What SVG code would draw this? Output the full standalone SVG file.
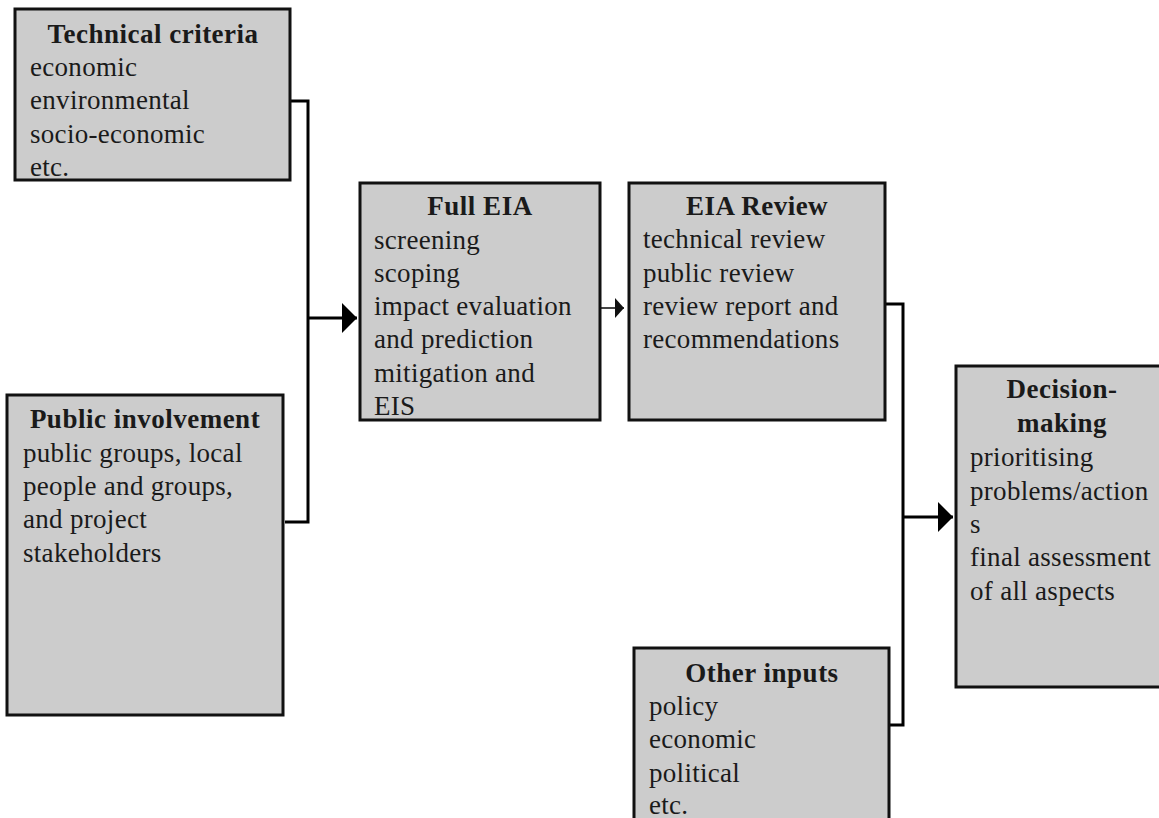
<svg xmlns="http://www.w3.org/2000/svg" width="1159" height="818" viewBox="0 0 1159 818">
  <style>
    .box { fill: #cccccc; stroke: #111111; stroke-width: 3; }
    .title { font-family: "Liberation Serif", "Times New Roman", serif; font-size: 27px; font-weight: bold; fill: #1a1a1a; text-anchor: middle; letter-spacing: 0.5px; }
    .item { font-family: "Liberation Serif", "Times New Roman", serif; font-size: 27px; fill: #1a1a1a; letter-spacing: 0.3px; }
    .link { fill: none; stroke: #000000; stroke-width: 3; }
    .thin { fill: none; stroke: #444444; stroke-width: 2; }
  </style>
  <defs>
    <marker id="head" markerUnits="userSpaceOnUse" markerWidth="16" markerHeight="30" refX="15" refY="15" orient="auto">
      <path d="M0,0 L15,15 L0,30 Z" fill="#000000"/>
    </marker>
    <marker id="headSmall" markerUnits="userSpaceOnUse" markerWidth="10" markerHeight="22" refX="9" refY="11" orient="auto">
      <path d="M0,1 L9,11 L0,21 Z" fill="#111111"/>
    </marker>
  </defs>

  <rect width="1159" height="818" fill="#ffffff"/>

  <g id="connectors">
    <!-- technical criteria + public involvement into Full EIA -->
    <path class="link" d="M290,101 H308 V522 H285"/>
    <path class="link" d="M308,318 H357" marker-end="url(#head)"/>
    <!-- Full EIA into EIA Review -->
    <path class="thin" d="M587,308 H624" marker-end="url(#headSmall)"/>
    <!-- EIA Review + other inputs into decision-making -->
    <path class="link" d="M885,304 H903 V725 H889"/>
    <path class="link" d="M903,517 H953" marker-end="url(#head)"/>
  </g>

  <g id="technical-criteria">
    <rect class="box" x="15" y="9" width="275" height="171"/>
    <text class="title" x="153" y="43">Technical criteria</text>
    <text class="item" x="30" y="76">economic</text>
    <text class="item" x="30" y="109">environmental</text>
    <text class="item" x="30" y="143">socio-economic</text>
    <text class="item" x="30" y="176">etc.</text>
  </g>

  <g id="public-involvement">
    <rect class="box" x="7" y="395" width="276" height="320"/>
    <text class="title" x="145" y="428">Public involvement</text>
    <text class="item" x="23" y="462">public groups, local</text>
    <text class="item" x="23" y="495">people and groups,</text>
    <text class="item" x="23" y="528">and project</text>
    <text class="item" x="23" y="562">stakeholders</text>
  </g>

  <g id="full-eia">
    <rect class="box" x="360" y="183" width="240" height="237"/>
    <text class="title" x="480" y="215">Full EIA</text>
    <text class="item" x="374" y="249">screening</text>
    <text class="item" x="374" y="282">scoping</text>
    <text class="item" x="374" y="315">impact evaluation</text>
    <text class="item" x="374" y="348">and prediction</text>
    <text class="item" x="374" y="382">mitigation and</text>
    <text class="item" x="374" y="415">EIS</text>
  </g>

  <g id="eia-review">
    <rect class="box" x="629" y="183" width="256" height="237"/>
    <text class="title" x="757" y="215">EIA Review</text>
    <text class="item" x="643" y="248">technical review</text>
    <text class="item" x="643" y="282">public review</text>
    <text class="item" x="643" y="315">review report and</text>
    <text class="item" x="643" y="348">recommendations</text>
  </g>

  <g id="decision-making">
    <rect class="box" x="956" y="366" width="212" height="321"/>
    <text class="title" x="1062" y="398">Decision-</text>
    <text class="title" x="1062" y="432">making</text>
    <text class="item" x="970" y="466">prioritising</text>
    <text class="item" x="970" y="500">problems/action</text>
    <text class="item" x="970" y="533">s</text>
    <text class="item" x="970" y="566">final assessment</text>
    <text class="item" x="970" y="600">of all aspects</text>
  </g>

  <g id="other-inputs">
    <rect class="box" x="634" y="648" width="255" height="185"/>
    <text class="title" x="762" y="682">Other inputs</text>
    <text class="item" x="649" y="715">policy</text>
    <text class="item" x="649" y="748">economic</text>
    <text class="item" x="649" y="782">political</text>
    <text class="item" x="649" y="814">etc.</text>
  </g>
</svg>
